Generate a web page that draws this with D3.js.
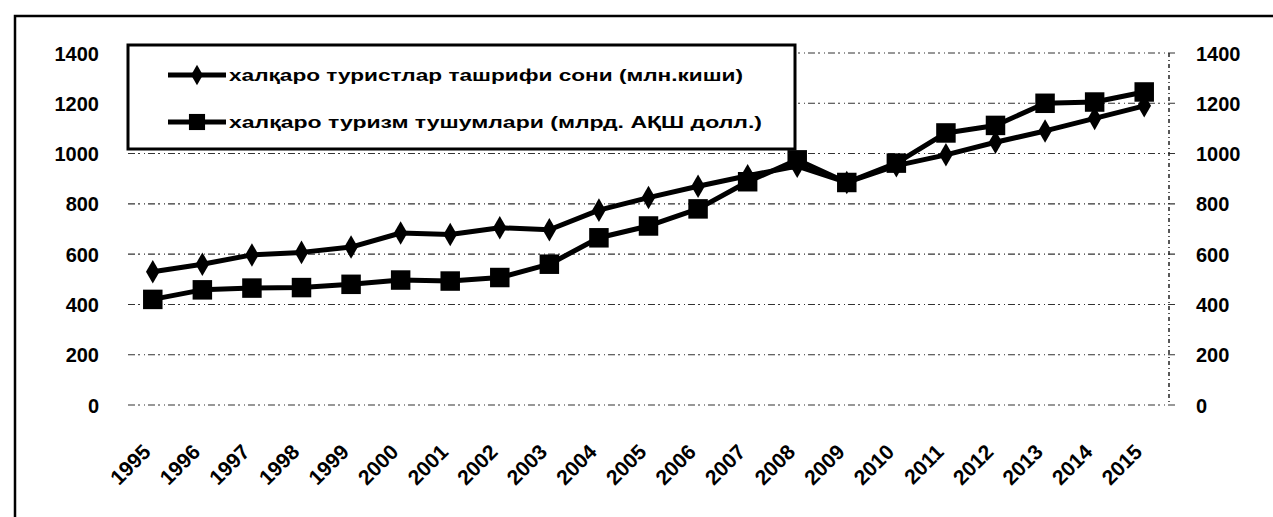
<!DOCTYPE html>
<html>
<head>
<meta charset="utf-8">
<script src="https://cdn.jsdelivr.net/npm/d3@7"></script>
<style>
  html, body { margin: 0; padding: 0; background: #fff; }
  svg { display: block; }
</style>
</head>
<body>
<svg id="chart" width="1273" height="517"></svg>
<script>
const years = ["1995","1996","1997","1998","1999","2000","2001","2002","2003","2004","2005","2006","2007","2008","2009","2010","2011","2012","2013","2014","2015"];
const arrivals = [530, 560, 597, 607, 628, 684, 678, 705, 697, 775, 825, 870, 912, 950, 885, 952, 995, 1045, 1090, 1140, 1190];
const receipts = [420, 458, 465, 467, 480, 497, 493, 507, 560, 665, 712, 780, 888, 975, 885, 962, 1082, 1112, 1200, 1205, 1245];
const yTicks = [0, 200, 400, 600, 800, 1000, 1200, 1400];
const seriesNames = ["халқаро туристлар ташрифи сони (млн.киши)", "халқаро туризм тушумлари (млрд. АҚШ долл.)"];

const svg = d3.select("#chart");
const pLeft = 128, pRight = 1169, pTop = 53, pBottom = 405;

const x = d3.scaleBand().domain(years).range([pLeft, pRight]);
const y = d3.scaleLinear().domain([0, 1400]).range([pBottom, pTop]);

// outer frame (top and left edges visible)
svg.append("path")
  .attr("d", `M15,517 L15,16 L1273,16`)
  .attr("fill", "none").attr("stroke", "#000").attr("stroke-width", 2.5);

// gridlines
svg.append("g").selectAll("line").data(yTicks).join("line")
  .attr("x1", pLeft).attr("x2", pRight + 8)
  .attr("y1", d => y(d)).attr("y2", d => y(d))
  .attr("stroke", "#333").attr("stroke-width", 1.1)
  .attr("stroke-dasharray", "7,3,2,4,1,3");

// right axis dashed line
svg.append("line")
  .attr("x1", pRight).attr("x2", pRight).attr("y1", pTop).attr("y2", pBottom)
  .attr("stroke", "#222").attr("stroke-width", 1.5).attr("stroke-dasharray", "4,3,1,3");

const fontFam = "'Liberation Sans', Arial, sans-serif";
const fmt = d3.format("d");

// left axis labels
const yAxisL = d3.axisLeft(y).tickValues(yTicks).tickFormat(fmt).tickSize(0).tickPadding(0);
const gL = svg.append("g").attr("transform", `translate(99,0)`).call(yAxisL);
gL.select(".domain").remove();
gL.selectAll("text").attr("font-family", fontFam).attr("font-weight", "bold")
  .attr("font-size", 20).attr("fill", "#000").attr("dy", "0.35em");

// right axis labels
const yAxisR = d3.axisRight(y).tickValues(yTicks).tickFormat(fmt).tickSize(0).tickPadding(0);
const gR = svg.append("g").attr("transform", `translate(1196,0)`).call(yAxisR);
gR.select(".domain").remove();
gR.selectAll("text").attr("font-family", fontFam).attr("font-weight", "bold")
  .attr("font-size", 20).attr("fill", "#000").attr("dy", "0.35em");

// x axis labels
const xAxis = d3.axisBottom(x).tickSize(0).tickPadding(0);
const gX = svg.append("g").attr("transform", `translate(0,${pBottom})`).call(xAxis);
gX.select(".domain").remove();
gX.selectAll("text")
  .attr("font-family", fontFam).attr("font-weight", "bold").attr("font-size", 21).attr("fill", "#000")
  .attr("text-anchor", "end")
  .attr("transform", "translate(-6,43) rotate(-45)")
  .attr("dy", "0.35em");

// lines
const line = d3.line().x((d, i) => x(years[i]) + x.bandwidth() / 2).y(d => y(d));
svg.append("path").datum(receipts).attr("d", line)
  .attr("fill", "none").attr("stroke", "#000").attr("stroke-width", 5).attr("stroke-linejoin", "round");
svg.append("path").datum(arrivals).attr("d", line)
  .attr("fill", "none").attr("stroke", "#000").attr("stroke-width", 5).attr("stroke-linejoin", "round");

const diamond = d3.symbol().type(d3.symbolDiamond).size(160);
const square = d3.symbol().type(d3.symbolSquare).size(380);

svg.append("g").selectAll("path").data(receipts).join("path")
  .attr("d", square)
  .attr("transform", (d, i) => `translate(${x(years[i]) + x.bandwidth() / 2},${y(d)})`)
  .attr("fill", "#000");
svg.append("g").selectAll("path").data(arrivals).join("path")
  .attr("d", diamond)
  .attr("transform", (d, i) => `translate(${x(years[i]) + x.bandwidth() / 2},${y(d)})`)
  .attr("fill", "#000");

// legend
const lg = svg.append("g");
lg.append("rect").attr("x", 128).attr("y", 45).attr("width", 667).attr("height", 104)
  .attr("fill", "#fff").attr("stroke", "#000").attr("stroke-width", 3);
const rows = [75, 122];
rows.forEach((ry, i) => {
  lg.append("line").attr("x1", 168).attr("x2", 226).attr("y1", ry).attr("y2", ry)
    .attr("stroke", "#000").attr("stroke-width", 5);
  lg.append("path").attr("d", i === 0 ? d3.symbol().type(d3.symbolDiamond).size(120)() : d3.symbol().type(d3.symbolSquare).size(260)())
    .attr("transform", `translate(197,${ry})`).attr("fill", "#000");
  lg.append("text").attr("x", 229).attr("y", ry).attr("dy", "0.35em")
    .attr("font-family", fontFam).attr("font-weight", "bold").attr("font-size", 17)
    .attr("textLength", i === 0 ? 514 : 533).attr("lengthAdjust", "spacingAndGlyphs")
    .text(seriesNames[i]);
});
</script>
</body>
</html>
